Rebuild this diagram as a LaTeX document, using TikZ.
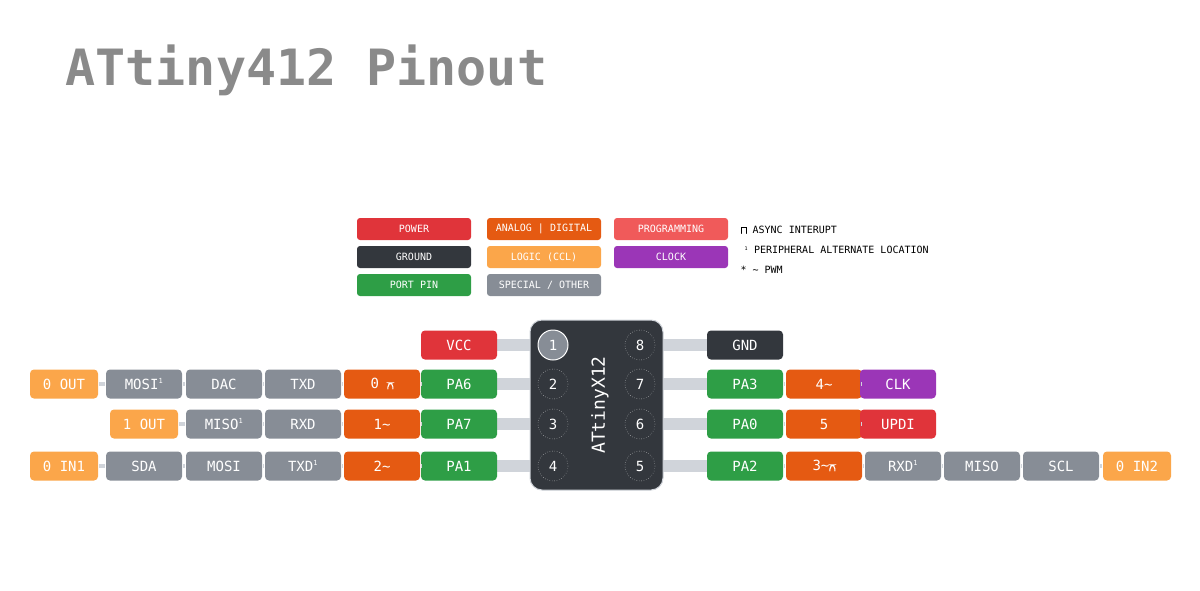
\documentclass[tikz,border=0pt]{standalone}
\usepackage{fontspec}
\setmainfont{DejaVu Sans Mono}
\newfontfamily\ttl{DejaVu Sans Mono}
\definecolor{cpow}{HTML}{E0343A}
\definecolor{cgnd}{HTML}{33373D}
\definecolor{cport}{HTML}{2E9E46}
\definecolor{cana}{HTML}{E55A12}
\definecolor{clog}{HTML}{FBA64A}
\definecolor{cspe}{HTML}{878D96}
\definecolor{cprog}{HTML}{F05A5A}
\definecolor{cclk}{HTML}{9B36B7}
\definecolor{cstub}{HTML}{D0D4DA}
\definecolor{ctitle}{HTML}{8A8A8A}
\newcommand\pls{\tikz[baseline=0pt,line width=1.1pt,line cap=round]\draw (0,0)--(0,6pt)--(5pt,6pt)--(5pt,0);}
\newcommand\tld{\char`\~}
\newcommand\sups{\textsuperscript{\scriptsize 1}}
\tikzset{
 bx/.style={rounded corners=4pt,minimum width=76pt,minimum height=29pt,text=white,font=\fontsize{14}{14}\selectfont,inner sep=0pt},
 lg/.style={rounded corners=3pt,minimum width=114pt,minimum height=22pt,text=white,font=\fontsize{10}{10}\selectfont,inner sep=0pt},
 lk/.style={draw=cstub,line width=4pt,shorten <=1pt,shorten >=1pt},
 stub/.style={draw=cstub,line width=12pt},
 pinc/.style={circle,draw=white,dotted,minimum size=30pt,text=white,font=\fontsize{14}{14}\selectfont,inner sep=0pt},
 lt/.style={anchor=west,font=\fontsize{10}{10}\selectfont,text=black}
}
\begin{document}
\begin{tikzpicture}[x=1pt,y=-1pt]
\useasboundingbox (0,0) rectangle (1200,590);
\node[anchor=west,font=\ttl\bfseries\fontsize{50}{50}\selectfont,text=ctitle] (title) at (62,70) {ATtiny412 Pinout};
% legend
\node[lg,fill=cpow] (l1) at (414,229) {POWER};
\node[lg,fill=cgnd] (l2) at (414,257) {GROUND};
\node[lg,fill=cport] (l3) at (414,285) {PORT PIN};
\node[lg,fill=cana] (l4) at (544,229) {ANALOG | DIGITAL};
\node[lg,fill=clog] (l5) at (544,257) {LOGIC (CCL)};
\node[lg,fill=cspe] (l6) at (544,285) {SPECIAL / OTHER};
\node[lg,fill=cprog] (l7) at (671,229) {PROGRAMMING};
\node[lg,fill=cclk] (l8) at (671,257) {CLOCK};
\node[lt] (t1) at (737,230) {\pls\ ASYNC INTERUPT};
\node[lt] (t2) at (741,250) {\textsuperscript{\tiny 1} PERIPHERAL ALTERNATE LOCATION};
\node[lt] (t3) at (737,270) {* \tld\ PWM};
% chip
\coordinate (sl1) at (497,345); \coordinate (sl2) at (497,384); \coordinate (sl3) at (497,424); \coordinate (sl4) at (497,466);
\coordinate (sr1) at (707,345); \coordinate (sr2) at (707,384); \coordinate (sr3) at (707,424); \coordinate (sr4) at (707,466);
\coordinate (cl1) at (540,345); \coordinate (cl2) at (540,384); \coordinate (cl3) at (540,424); \coordinate (cl4) at (540,466);
\coordinate (cr1) at (655,345); \coordinate (cr2) at (655,384); \coordinate (cr3) at (655,424); \coordinate (cr4) at (655,466);
\foreach \i in {1,...,4}{\draw[stub] (sl\i)--(cl\i); \draw[stub] (sr\i)--(cr\i);}
\node[draw=cstub,line width=1pt,fill=cgnd,rounded corners=12pt,minimum width=133pt,minimum height=170pt] (chip) at (596.5,405) {};
\node[rotate=90,text=white,font=\fontsize{18}{18}\selectfont] (cname) at (600,405) {ATtinyX12};
\node[pinc,fill=cspe,solid,draw=white,line width=1pt] (p1) at (553,345) {1};
\node[pinc] (p2) at (553,384) {2};
\node[pinc] (p3) at (553,424) {3};
\node[pinc] (p4) at (553,466) {4};
\node[pinc] (p8) at (640,345) {8};
\node[pinc] (p7) at (640,384) {7};
\node[pinc] (p6) at (640,424) {6};
\node[pinc] (p5) at (640,466) {5};
% left boxes
\node[bx,fill=cpow] (vcc) at (459,345) {VCC};
\node[bx,fill=cport] (a1) at (459,384) {PA6};
\node[bx,fill=cana] (a2) at (382,384) {0 \pls};
\node[bx,fill=cspe] (a3) at (303,384) {TXD};
\node[bx,fill=cspe] (a4) at (224,384) {DAC};
\node[bx,fill=cspe] (a5) at (144,384) {MOSI\sups};
\node[bx,fill=clog,minimum width=68pt] (a6) at (64,384) {0 OUT};
\node[bx,fill=cport] (b1) at (459,424) {PA7};
\node[bx,fill=cana] (b2) at (382,424) {1\tld};
\node[bx,fill=cspe] (b3) at (303,424) {RXD};
\node[bx,fill=cspe] (b4) at (224,424) {MISO\sups};
\node[bx,fill=clog,minimum width=68pt] (b5) at (144,424) {1 OUT};
\node[bx,fill=cport] (c1) at (459,466) {PA1};
\node[bx,fill=cana] (c2) at (382,466) {2\tld};
\node[bx,fill=cspe] (c3) at (303,466) {TXD\sups};
\node[bx,fill=cspe] (c4) at (224,466) {MOSI};
\node[bx,fill=cspe] (c5) at (144,466) {SDA};
\node[bx,fill=clog,minimum width=68pt] (c6) at (64,466) {0 IN1};
% right boxes
\node[bx,fill=cgnd] (gnd) at (745,345) {GND};
\node[bx,fill=cport] (d1) at (745,384) {PA3};
\node[bx,fill=cana] (d2) at (824,384) {4\tld};
\node[bx,fill=cclk] (d3) at (898,384) {CLK};
\node[bx,fill=cport] (e1) at (745,424) {PA0};
\node[bx,fill=cana] (e2) at (824,424) {5};
\node[bx,fill=cpow] (e3) at (898,424) {UPDI};
\node[bx,fill=cport] (f1) at (745,466) {PA2};
\node[bx,fill=cana] (f2) at (824,466) {3\tld\pls};
\node[bx,fill=cspe] (f3) at (903,466) {RXD\sups};
\node[bx,fill=cspe] (f4) at (982,466) {MISO};
\node[bx,fill=cspe] (f5) at (1061,466) {SCL};
\node[bx,fill=clog,minimum width=68pt] (f6) at (1137,466) {0 IN2};
% links
\foreach \u/\v in {a1/a2,a2/a3,a3/a4,a4/a5,a5/a6,b1/b2,b2/b3,b3/b4,b4/b5,c1/c2,c2/c3,c3/c4,c4/c5,c5/c6,d1/d2,d2/d3,e1/e2,e2/e3,f1/f2,f2/f3,f3/f4,f4/f5,f5/f6}
  \draw[lk] (\u)--(\v);
\end{tikzpicture}
\end{document}
